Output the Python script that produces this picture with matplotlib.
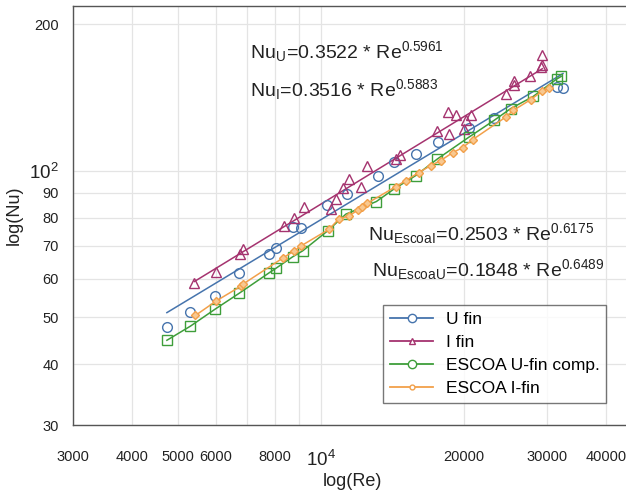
import numpy as np
import matplotlib
matplotlib.use("Agg")
import matplotlib.pyplot as plt
from matplotlib.lines import Line2D

plt.rcParams['font.family'] = ['Liberation Sans', 'DejaVu Sans']
plt.rcParams['mathtext.fontset'] = 'custom'
plt.rcParams['mathtext.rm'] = 'Liberation Sans'
plt.rcParams['mathtext.it'] = 'Liberation Sans:italic'
plt.rcParams['mathtext.bf'] = 'Liberation Sans:bold'

# ---- data ----
u_fin_re = [4733, 5298, 5990, 6730, 7785, 8028, 8716, 9077, 10280, 11343, 13164,
            14227, 15849, 17658, 20524, 23170, 31500, 32400]
u_fin_nu = [47.7, 51.3, 55.2, 61.5, 67.5, 69.5, 76.6, 76.2, 85.0, 89.5, 97.7,
            104.0, 108.2, 114.4, 122.3, 128.5, 148.3, 148.1]

i_fin_re = [5411, 6010, 6762, 6841, 8370, 8785, 9222, 10497, 10755, 11109, 11470,
            12144, 12502, 14385, 14687, 17609, 18625, 18510, 19240, 20200, 20030,
            20770, 24520, 25520, 25600, 27590, 29060, 29300, 29300]
i_fin_nu = [58.8, 62.0, 67.5, 68.9, 77.0, 79.9, 84.0, 83.4, 87.4, 92.0, 96.1,
            92.7, 102.4, 105.7, 107.9, 120.9, 119.0, 132.0, 129.9, 126.8, 121.9,
            129.9, 143.5, 149.7, 152.8, 156.2, 163.3, 164.6, 172.6]

escoa_u_re = [4733, 5306, 5980, 6730, 7785, 8040, 8716, 9150, 10330, 11290, 13090,
              14267, 15849, 17609, 20524, 23170, 25119, 28040, 31400, 32120]
escoa_u_nu = [44.8, 47.9, 51.9, 56.0, 61.7, 63.0, 66.5, 68.4, 75.2, 81.4, 86.4,
              91.7, 97.7, 105.7, 117.2, 126.8, 134.1, 142.1, 154.2, 156.2]

escoa_i_re = [5438, 6020, 6785, 6841, 8307, 8785, 9095, 10410, 10900, 11470, 11980,
              12200, 12500, 14385, 15100, 16080, 17040, 17890, 18960, 19900, 20890,
              24520, 25450, 27680, 29300, 30200]
escoa_i_nu = [50.4, 54.0, 57.9, 58.4, 66.1, 68.4, 70.1, 75.8, 79.5, 80.8, 83.0,
              84.0, 85.6, 92.7, 95.4, 99.1, 102.4, 104.9, 108.9, 111.5, 115.8,
              128.8, 133.0, 139.9, 145.7, 147.6]

# power-law fits shown in the chart (coefficient, exponent)
fit_u = (0.3516, 0.5883)   # drawn along U fin data
fit_i = (0.3522, 0.5961)   # drawn along I fin data

labels = ["U fin", "I fin", "ESCOA U-fin comp.", "ESCOA I-fin"]
eq_texts = [r"$\mathrm{Nu_U\!=\!0.3522\ {*}\ Re^{0.5961}}$",
            r"$\mathrm{Nu_I\!=\!0.3516\ {*}\ Re^{0.5883}}$",
            r"$\mathrm{Nu_{EscoaI}\!=\!0.2503\ {*}\ Re^{0.6175}}$",
            r"$\mathrm{Nu_{EscoaU}\!=\!0.1848\ {*}\ Re^{0.6489}}$"]

x_ticks = [3000, 4000, 5000, 6000, 7000, 8000, 9000, 10000, 20000, 30000, 40000]
x_ticklabels = ["3000", "4000", "5000", "6000", "", "8000", "", r"$\mathrm{10^4}$",
                "20000", "30000", "40000"]
y_ticks = [30, 40, 50, 60, 70, 80, 90, 100, 200]
y_ticklabels = ["30", "40", "50", "60", "70", "80", "90", r"$\mathrm{10^2}$", "200"]

c_blue = '#4674ad'
c_purple = '#a5336f'
c_green = '#3e9e3a'
c_orange = '#f2a04a'

W, H = 626, 494
fig = plt.figure(figsize=(W / 100, H / 100), dpi=100)
ax = fig.add_axes([73 / W, (H - 425) / H, (626 - 73) / W, (425 - 6) / H])
ax.set_xscale('log')
ax.set_yscale('log')

# fit lines
for (a, b), re_, col in [(fit_u, u_fin_re, c_blue), (fit_i, i_fin_re, c_purple)]:
    xr = np.array([min(re_), max(re_)])
    ax.plot(xr, a * xr ** b, color=col, lw=1.1, zorder=2)

ax.plot(u_fin_re, u_fin_nu, 'o', ms=7, mfc='none', mec=c_blue, mew=1.0, zorder=3)
ax.plot(i_fin_re, i_fin_nu, '^', ms=6.5, mfc='none', mec=c_purple, mew=1.0, zorder=3)
o_e = np.argsort(escoa_u_re)
ax.plot(np.array(escoa_u_re)[o_e], np.array(escoa_u_nu)[o_e], '-s', color=c_green,
        ms=6.5, mfc='none', mec=c_green, mew=1.0, lw=1.1, zorder=3)
o_i = np.argsort(escoa_i_re)
ax.plot(np.array(escoa_i_re)[o_i], np.array(escoa_i_nu)[o_i], '-D', color=c_orange,
        ms=4, mfc='#f8c890', mec=c_orange, mew=1.0, lw=1.1, zorder=3)

# legend handles
handles = [
    Line2D([], [], color=c_blue, lw=1.3, marker='o', ms=6, mfc='white', mec=c_blue),
    Line2D([], [], color=c_purple, lw=1.3, marker='^', ms=4.5, mfc='white', mec=c_purple),
    Line2D([], [], color=c_green, lw=1.3, marker='o', ms=6, mfc='white', mec=c_green),
    Line2D([], [], color=c_orange, lw=1.3, marker='o', ms=3.5, mfc='white', mec=c_orange),
]
leg = fig.legend(handles, labels, loc='upper left',
                 bbox_to_anchor=(383 / W, 1 - 305 / H), fontsize=12.5,
                 frameon=True, fancybox=False, edgecolor='#555555',
                 handlelength=2.5, handletextpad=0.7, labelspacing=0.45,
                 borderpad=0.4, borderaxespad=0)
leg.get_frame().set_linewidth(1.0)

ax.set_xlim(3000, 44000)
ax.set_ylim(30, 218)
ax.set_xticks(x_ticks)
ax.set_xticklabels(x_ticklabels)
ax.set_yticks(y_ticks)
ax.set_yticklabels(y_ticklabels)
ax.minorticks_off()
ax.tick_params(axis='x', length=0, pad=18, labelsize=10.5, labelcolor='#222222')
ax.tick_params(axis='y', length=0, pad=10, labelsize=10.5, labelcolor='#222222')
for lab in ax.get_xticklabels() + ax.get_yticklabels():
    if '10^' in lab.get_text():
        lab.set_fontsize(13.5)
ax.grid(True, which='major', color='#e4e4e4', lw=0.9)
ax.set_axisbelow(True)
for s in ['left', 'bottom', 'top']:
    ax.spines[s].set_color('#555555')
    ax.spines[s].set_linewidth(1.0)
ax.spines['right'].set_visible(False)

fig.text(352 / W, 1 - 481 / H, "log(Re)", ha='center', va='center', fontsize=13, color='#222222')
fig.text(14 / W, 1 - 215 / H, "log(Nu)", ha='center', va='center', rotation=90, fontsize=13, color='#222222')

eq_pos = [(250, 52), (250, 90), (368, 234), (372, 270)]
for t, (px, py) in zip(eq_texts, eq_pos):
    fig.text(px / W, 1 - py / H, t, ha='left', va='center', fontsize=14, color='#222222')

fig.savefig('out.png', dpi=100)
